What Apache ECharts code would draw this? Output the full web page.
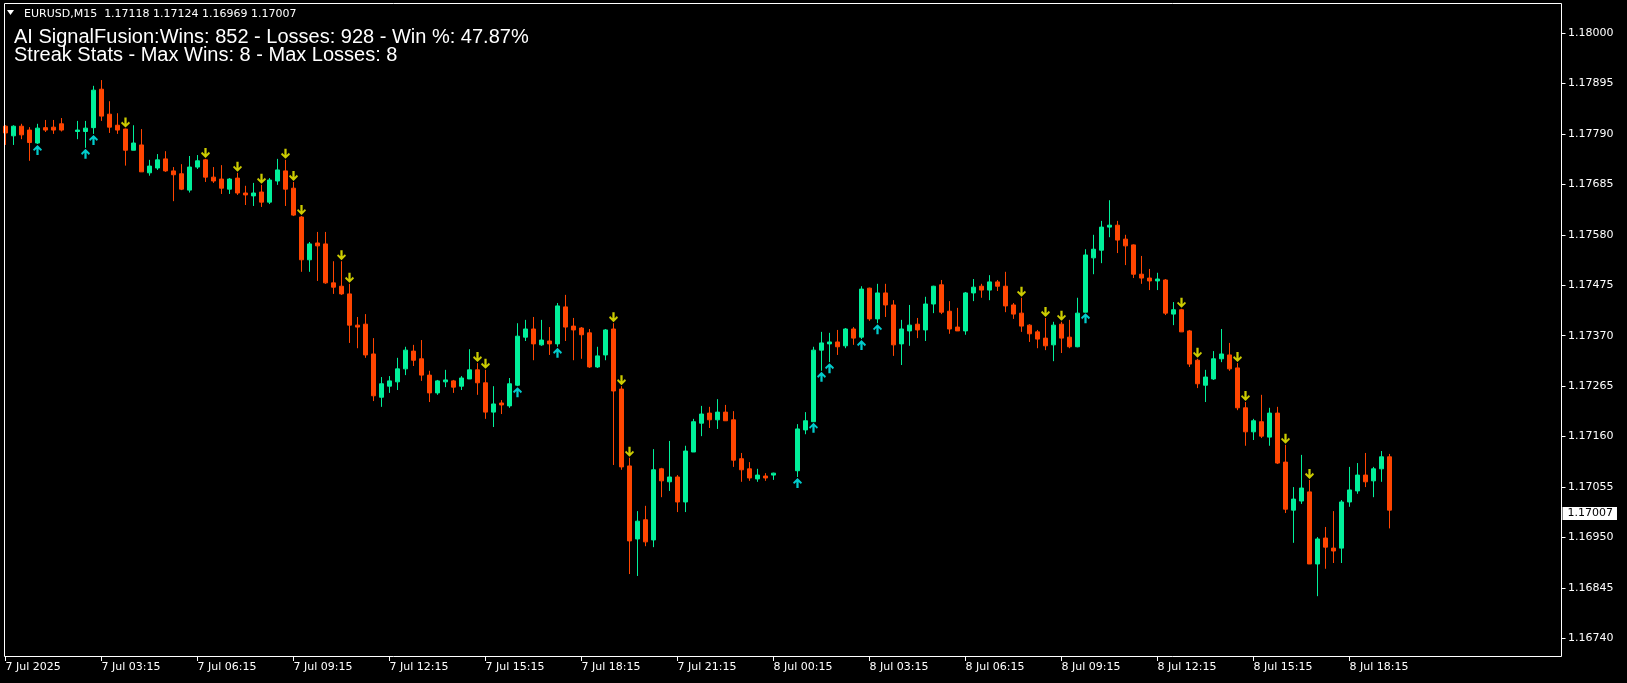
<!DOCTYPE html>
<html>
<head>
<meta charset="utf-8">
<script src="https://cdn.jsdelivr.net/npm/echarts@6/dist/echarts.min.js"></script>
<style>
html,body{margin:0;padding:0;background:#000;}
#chart{width:1627px;height:683px;}
</style>
</head>
<body>
<div id="chart"></div>
<script>
const symbolName = 'EURUSD,M15';
const statsLine1 = 'AI SignalFusion:Wins: 852 - Losses: 928 - Win %: 47.87%';
const statsLine2 = 'Streak Stats - Max Wins: 8 - Max Losses: 8';
const timeLabels = ['7 Jul 2025','7 Jul 03:15','7 Jul 06:15','7 Jul 09:15','7 Jul 12:15','7 Jul 15:15','7 Jul 18:15','7 Jul 21:15','8 Jul 00:15','8 Jul 03:15','8 Jul 06:15','8 Jul 09:15','8 Jul 12:15','8 Jul 15:15','8 Jul 18:15'];
const priceTicks = [1.18000,1.17895,1.17790,1.17685,1.17580,1.17475,1.17370,1.17265,1.17160,1.17055,1.16950,1.16845,1.16740];

const opens = [
1.17806,1.17786,1.17806,1.17798,1.17771,1.17803,1.17804,1.17811,1.17798,1.17795,
1.17795,1.17803,1.17883,1.17831,1.17808,1.17800,1.17756,1.17767,1.17709,1.17719,
1.17738,1.17713,1.17707,1.17673,1.17721,1.17736,1.17700,1.17696,1.17675,1.17698,
1.17667,1.17661,1.17669,1.17648,1.17692,1.17713,1.17677,1.17617,1.17528,1.17563,
1.17561,1.17480,1.17473,1.17457,1.17392,1.17394,1.17332,1.17242,1.17265,1.17274,
1.17301,1.17338,1.17322,1.17288,1.17251,1.17274,1.17276,1.17265,1.17280,1.17299,
1.17272,1.17211,1.17230,1.17224,1.17267,1.17367,1.17384,1.17351,1.17359,1.17353,
1.17430,1.17390,1.17386,1.17376,1.17305,1.17330,1.17384,1.17259,1.17099,1.16947,
1.16987,1.16945,1.17093,1.17066,1.17076,1.17024,1.17128,1.17188,1.17209,1.17195,
1.17211,1.17195,1.17114,1.17093,1.17072,1.17078,1.17080,1.17084,1.17084,1.17089,
1.17174,1.17191,1.17340,1.17353,1.17357,1.17349,1.17384,1.17367,1.17469,1.17405,
1.17459,1.17434,1.17353,1.17380,1.17394,1.17382,1.17436,1.17476,1.17421,1.17388,
1.17380,1.17459,1.17473,1.17465,1.17482,1.17473,1.17434,1.17417,1.17392,1.17378,
1.17365,1.17351,1.17394,1.17367,1.17347,1.17419,1.17532,1.17548,1.17596,1.17600,
1.17571,1.17559,1.17498,1.17490,1.17484,1.17486,1.17415,1.17424,1.17380,1.17319,
1.17267,1.17280,1.17322,1.17330,1.17303,1.17220,1.17170,1.17191,1.17159,1.17209,
1.17107,1.17007,1.17026,1.17045,1.16895,1.16949,1.16928,1.16928,1.17024,1.17047,
1.17080,1.17068,1.17093,1.17118];

const closes = [
1.17792,1.17806,1.17788,1.17772,1.17802,1.17798,1.17798,1.17798,1.17798,1.17798,
1.17802,1.17881,1.17827,1.17804,1.17798,1.17756,1.17771,1.17711,1.17723,1.17736,
1.17713,1.17705,1.17675,1.17721,1.17734,1.17700,1.17692,1.17677,1.17696,1.17667,
1.17663,1.17667,1.17648,1.17694,1.17715,1.17675,1.17621,1.17528,1.17561,1.17557,
1.17480,1.17471,1.17457,1.17392,1.17388,1.17330,1.17245,1.17270,1.17276,1.17301,
1.17340,1.17319,1.17288,1.17251,1.17276,1.17278,1.17263,1.17282,1.17299,1.17272,
1.17211,1.17228,1.17226,1.17270,1.17369,1.17384,1.17353,1.17361,1.17353,1.17432,
1.17388,1.17382,1.17372,1.17305,1.17328,1.17382,1.17255,1.17097,1.16943,1.16984,
1.16941,1.17091,1.17068,1.17076,1.17024,1.17130,1.17191,1.17207,1.17195,1.17211,
1.17193,1.17111,1.17091,1.17074,1.17080,1.17074,1.17084,1.17084,1.17084,1.17176,
1.17193,1.17340,1.17355,1.17357,1.17347,1.17384,1.17365,1.17467,1.17405,1.17459,
1.17434,1.17351,1.17384,1.17392,1.17382,1.17436,1.17473,1.17419,1.17384,1.17380,
1.17459,1.17471,1.17465,1.17482,1.17473,1.17432,1.17415,1.17390,1.17374,1.17363,
1.17349,1.17392,1.17365,1.17347,1.17417,1.17538,1.17550,1.17596,1.17600,1.17569,
1.17557,1.17498,1.17490,1.17484,1.17488,1.17417,1.17424,1.17378,1.17311,1.17270,
1.17284,1.17322,1.17332,1.17301,1.17220,1.17170,1.17193,1.17161,1.17209,1.17105,
1.17009,1.17030,1.17053,1.16895,1.16947,1.16930,1.16922,1.17024,1.17049,1.17080,
1.17066,1.17093,1.17118,1.17007];

const lows = [
1.17767,1.17767,1.17779,1.17734,1.17769,1.17794,1.17790,1.17795,1.17798,1.17779,
1.17761,1.17790,1.17817,1.17792,1.17790,1.17724,1.17756,1.17711,1.17703,1.17715,
1.17711,1.17650,1.17673,1.17668,1.17717,1.17690,1.17688,1.17665,1.17665,1.17663,
1.17642,1.17640,1.17638,1.17644,1.17684,1.17640,1.17619,1.17503,1.17503,1.17484,
1.17478,1.17457,1.17455,1.17355,1.17344,1.17324,1.17234,1.17222,1.17251,1.17257,
1.17288,1.17307,1.17276,1.17232,1.17247,1.17263,1.17251,1.17257,1.17280,1.17247,
1.17197,1.17180,1.17207,1.17220,1.17265,1.17359,1.17319,1.17349,1.17330,1.17347,
1.17359,1.17319,1.17322,1.17303,1.17303,1.17319,1.17101,1.17091,1.16874,1.16870,
1.16932,1.16930,1.17034,1.17047,1.17003,1.17003,1.17128,1.17161,1.17178,1.17176,
1.17193,1.17097,1.17066,1.17068,1.17066,1.17068,1.17070,1.17084,1.17084,1.17076,
1.17165,1.17191,1.17297,1.17315,1.17330,1.17344,1.17351,1.17363,1.17401,1.17396,
1.17409,1.17328,1.17309,1.17349,1.17365,1.17359,1.17417,1.17415,1.17374,1.17380,
1.17372,1.17442,1.17449,1.17444,1.17463,1.17419,1.17405,1.17378,1.17357,1.17344,
1.17340,1.17317,1.17334,1.17344,1.17346,1.17419,1.17498,1.17521,1.17575,1.17542,
1.17517,1.17490,1.17478,1.17465,1.17465,1.17413,1.17392,1.17378,1.17305,1.17261,
1.17232,1.17278,1.17315,1.17297,1.17215,1.17141,1.17153,1.17157,1.17141,1.17103,
1.17001,1.16939,1.17020,1.16895,1.16828,1.16885,1.16897,1.16897,1.17014,1.17041,
1.17055,1.17034,1.17066,1.16969];

const highs = [
1.17808,1.17808,1.17811,1.17804,1.17811,1.17819,1.17819,1.17823,1.17798,1.17817,
1.17817,1.17890,1.17902,1.17858,1.17833,1.17801,1.17808,1.17800,1.17736,1.17748,
1.17754,1.17721,1.17727,1.17744,1.17746,1.17738,1.17721,1.17725,1.17698,1.17709,
1.17682,1.17688,1.17684,1.17698,1.17738,1.17736,1.17690,1.17619,1.17565,1.17586,
1.17586,1.17525,1.17525,1.17478,1.17409,1.17415,1.17365,1.17284,1.17286,1.17324,
1.17347,1.17351,1.17361,1.17297,1.17278,1.17299,1.17278,1.17286,1.17342,1.17313,
1.17299,1.17265,1.17236,1.17282,1.17396,1.17403,1.17409,1.17403,1.17388,1.17438,
1.17455,1.17407,1.17388,1.17384,1.17347,1.17384,1.17396,1.17265,1.17116,1.17005,
1.17016,1.17134,1.17095,1.17151,1.17080,1.17141,1.17197,1.17224,1.17222,1.17238,
1.17226,1.17213,1.17126,1.17107,1.17093,1.17084,1.17085,1.17084,1.17084,1.17186,
1.17211,1.17347,1.17378,1.17376,1.17382,1.17386,1.17388,1.17473,1.17470,1.17478,
1.17478,1.17444,1.17403,1.17434,1.17407,1.17451,1.17474,1.17486,1.17442,1.17428,
1.17461,1.17488,1.17478,1.17496,1.17486,1.17503,1.17438,1.17449,1.17394,1.17382,
1.17407,1.17399,1.17399,1.17403,1.17449,1.17550,1.17580,1.17609,1.17652,1.17609,
1.17580,1.17560,1.17536,1.17509,1.17501,1.17488,1.17440,1.17426,1.17382,1.17322,
1.17299,1.17338,1.17384,1.17355,1.17313,1.17232,1.17197,1.17247,1.17220,1.17222,
1.17143,1.17055,1.17122,1.17070,1.16951,1.16972,1.17005,1.17028,1.17097,1.17105,
1.17126,1.17097,1.17130,1.17124];

const hiddenBars = [8, 97, 98];
const sellSignals = [15,25,29,32,35,36,37,42,43,59,60,76,77,78,127,130,132,147,149,154,155,160,163];
const buySignals = [4,10,11,64,69,99,101,102,103,107,109,135];

const BULL = '#00F09A', BEAR = '#FF4500', SELL = '#FFFF00', BUY = '#00FFFF';
const SLOTS = 195;
const categories = Array.from({length: SLOTS}, (_, i) => String(i));
const candleData = opens.map((o, i) => {
  const v = [o, closes[i], lows[i], highs[i]];
  return hiddenBars.includes(i) ? {value: v, itemStyle: {opacity: 0}} : v;
});
const sellData = sellSignals.map(i => [i, highs[i]]);
const buyData = buySignals.map(i => [i, lows[i]]);
const last = opens.length - 1;
const fmt = v => v.toFixed(5);

const downArrow = 'path://M3,0 L5,0 L5,5.5 L7,3.5 L8,5 L4,9 L0,5 L1,3.5 L3,5.5 Z';
const upArrow = 'path://M3,9 L5,9 L5,3.5 L7,5.5 L8,4 L4,0 L0,4 L1,5.5 L3,3.5 Z';
const labelShown = i => i % 12 === 0 && (i / 12) < timeLabels.length;
const FONT = 'DejaVu Sans';

const chart = echarts.init(document.getElementById('chart'), null, {renderer: 'canvas'});
chart.setOption({
  backgroundColor: '#000',
  animation: false,
  grid: {left: 1.5, top: 3, width: 1560, height: 654, containLabel: false},
  xAxis: {
    type: 'category', data: categories, boundaryGap: true,
    axisLine: {show: false},
    axisTick: {show: true, interval: labelShown, alignWithLabel: true, length: 4, lineStyle: {color: '#fff'}},
    axisLabel: {
      interval: labelShown, align: 'left', margin: 5, color: '#fff',
      fontFamily: FONT, fontSize: 11,
      formatter: (v, idx) => labelShown(idx) ? timeLabels[idx / 12] : ''
    },
    splitLine: {show: false}
  },
  yAxis: {
    type: 'value', position: 'right', scale: true,
    min: 1.167014, max: 1.180624,
    axisLine: {show: false},
    axisTick: {show: true, customValues: priceTicks, length: 4, lineStyle: {color: '#fff'}},
    axisLabel: {customValues: priceTicks, margin: 6.5, color: '#fff', fontFamily: FONT, fontSize: 11, formatter: v => fmt(v)},
    splitLine: {show: false}
  },
  series: [
    {
      type: 'candlestick', data: candleData, barWidth: 4,
      itemStyle: {color: BULL, color0: BEAR, borderColor: BULL, borderColor0: BEAR, borderWidth: 1},
      markLine: {
        silent: true, symbol: ['none', 'none'], animation: false,
        lineStyle: {color: 'rgba(0,0,0,0)', width: 1, type: 'solid'},
        data: [{yAxis: closes[last]}],
        label: {
          show: true, position: 'end', distance: 1,
          formatter: fmt(closes[last]), color: '#000', backgroundColor: '#fff',
          fontFamily: FONT, fontSize: 11, lineHeight: 12, padding: [1, 4, 0, 5]
        }
      }
    },
    {type: 'scatter', data: sellData, symbol: downArrow, symbolSize: [9, 10], symbolOffset: [0, -6],
     itemStyle: {color: SELL}, z: 5, silent: true},
    {type: 'scatter', data: buyData, symbol: upArrow, symbolSize: [9, 10], symbolOffset: [0, 6],
     itemStyle: {color: BUY}, z: 5, silent: true}
  ],
  graphic: [
    {type: 'rect', shape: {x: 4.5, y: 3.5, width: 1557, height: 653}, style: {fill: 'none', stroke: '#fff', lineWidth: 1}, z: 10, silent: true},
    {type: 'polygon', shape: {points: [[7, 10], [14, 10], [10.5, 15]]}, style: {fill: '#fff'}, z: 10, silent: true},
    {type: 'text', x: 24, y: 14, z: 10, silent: true,
     style: {text: symbolName + '  ' + [opens[last], highs[last], lows[last], closes[last]].map(fmt).join(' '),
             fill: '#fff', font: '11px "' + FONT + '"', verticalAlign: 'middle', align: 'left'}},
    {type: 'text', x: 14, y: 37, z: 10, silent: true,
     style: {text: statsLine1, fill: '#fff', font: '20px "Liberation Sans"', verticalAlign: 'middle', align: 'left'}},
    {type: 'text', x: 14, y: 55, z: 10, silent: true,
     style: {text: statsLine2, fill: '#fff', font: '20px "Liberation Sans"', verticalAlign: 'middle', align: 'left'}}
  ]
});
</script>
</body>
</html>
